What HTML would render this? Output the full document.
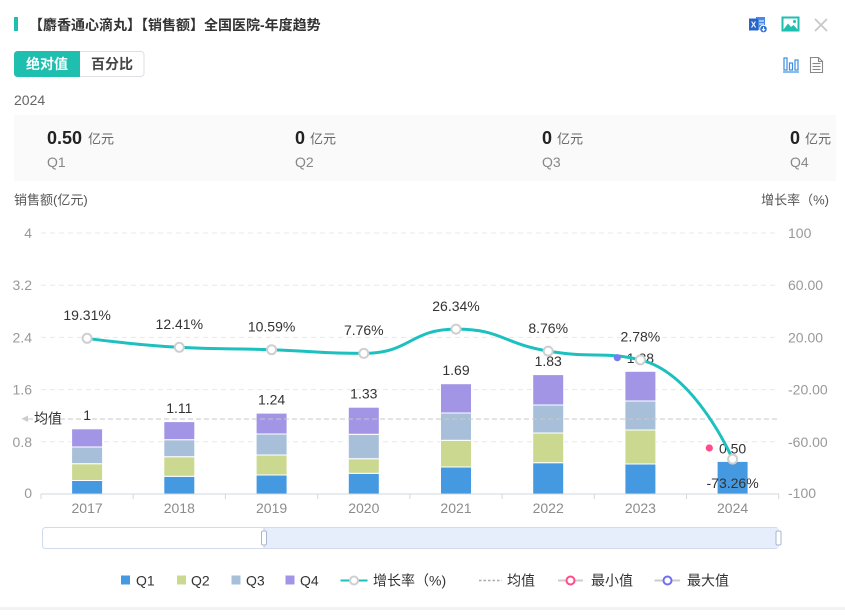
<!DOCTYPE html>
<html><head><meta charset="utf-8"><style>
html,body{margin:0;padding:0;background:#fff;}
body{width:845px;height:610px;overflow:hidden;}
svg text{font-family:"Liberation Sans","Noto Sans CJK SC",sans-serif;}
</style></head><body>
<svg width="845" height="610" viewBox="0 0 845 610" xmlns="http://www.w3.org/2000/svg">
<!-- header -->
<rect x="14" y="17" width="4" height="14" fill="#1fbfb0"/>
<text x="29" y="25" font-size="14" font-weight="bold" fill="#333" dominant-baseline="central">【麝香通心滴丸】【销售额】全国医院-年度趋势</text>
<!-- excel icon -->
<rect x="751" y="19" width="8" height="11" fill="#2b6fd6"/>
<rect x="756" y="17" width="9" height="13" fill="#4a8ae6"/>
<rect x="749" y="18.5" width="9" height="12" fill="#2566cc"/>
<text x="753.5" y="25" font-size="8" font-weight="bold" fill="#fff" text-anchor="middle" dominant-baseline="central">X</text>
<line x1="759" y1="21" x2="764" y2="21" stroke="#fff" stroke-width="1"/>
<line x1="759" y1="24" x2="764" y2="24" stroke="#fff" stroke-width="1"/>
<circle cx="763.5" cy="29" r="3.8" fill="#2b6fd6" stroke="#fff" stroke-width="1"/>
<path d="M763.5,27 v3.5 M762,29 l1.5,1.7 l1.5,-1.7" stroke="#fff" stroke-width="1" fill="none"/>
<!-- image icon -->
<rect x="782.5" y="17.5" width="16" height="13" fill="#fff" stroke="#1fbfb0" stroke-width="2"/>
<path d="M783.5,29.5 L788,23.5 L791,27 L793.5,25 L797.5,29.5 Z" fill="#1fbfb0"/>
<circle cx="794.5" cy="21.5" r="1.5" fill="#1fbfb0"/>
<!-- close -->
<path d="M815,19 L827,31 M827,19 L815,31" stroke="#c8c8c8" stroke-width="1.8"/>
<!-- toggle -->
<rect x="14.5" y="51.5" width="129.5" height="25" rx="3" fill="#fff" stroke="#dcdfe6"/>
<path d="M17.5,51 H80 V77 H17.5 A3.5,3.5 0 0 1 14,73.5 V54.5 A3.5,3.5 0 0 1 17.5,51 Z" fill="#1fbfb0"/>
<text x="47" y="64" font-size="14" font-weight="bold" fill="#fff" text-anchor="middle" dominant-baseline="central">绝对值</text>
<text x="112" y="64" font-size="14" font-weight="bold" fill="#444" text-anchor="middle" dominant-baseline="central">百分比</text>
<!-- bar icon -->
<g stroke="#3a8ee0" stroke-width="1.2" fill="none">
<rect x="784" y="58" width="3" height="12"/>
<rect x="789.5" y="63" width="3" height="7"/>
<rect x="795" y="60" width="3" height="10"/>
<line x1="783" y1="72" x2="799" y2="72"/>
</g>
<!-- doc icon -->
<g stroke="#888" stroke-width="1.1" fill="none">
<path d="M810.5,57.5 H818.5 L822.5,61.5 V72.5 H810.5 Z"/>
<path d="M818.5,57.5 V61.5 H822.5"/>
<line x1="812.5" y1="63.5" x2="820.5" y2="63.5"/>
<line x1="812.5" y1="66.5" x2="820.5" y2="66.5"/>
<line x1="812.5" y1="69.5" x2="820.5" y2="69.5"/>
</g>
<text x="14" y="100" font-size="14" fill="#666" dominant-baseline="central">2024</text>
<!-- summary panel -->
<rect x="14" y="115" width="822" height="66" fill="#fafafa"/>
<text x="47" y="138" font-size="18" font-weight="bold" fill="#222" dominant-baseline="central">0.50</text>
<text x="88" y="139" font-size="13" fill="#666" dominant-baseline="central">亿元</text>
<text x="47" y="162" font-size="14" fill="#888" dominant-baseline="central">Q1</text>
<text x="295" y="138" font-size="18" font-weight="bold" fill="#222" dominant-baseline="central">0</text>
<text x="310" y="139" font-size="13" fill="#666" dominant-baseline="central">亿元</text>
<text x="295" y="162" font-size="14" fill="#888" dominant-baseline="central">Q2</text>
<text x="542" y="138" font-size="18" font-weight="bold" fill="#222" dominant-baseline="central">0</text>
<text x="557" y="139" font-size="13" fill="#666" dominant-baseline="central">亿元</text>
<text x="542" y="162" font-size="14" fill="#888" dominant-baseline="central">Q3</text>
<text x="790" y="138" font-size="18" font-weight="bold" fill="#222" dominant-baseline="central">0</text>
<text x="805" y="139" font-size="13" fill="#666" dominant-baseline="central">亿元</text>
<text x="790" y="162" font-size="14" fill="#888" dominant-baseline="central">Q4</text>
<!-- axis titles -->
<text x="14" y="200" font-size="13" fill="#555" dominant-baseline="central">销售额(亿元)</text>
<text x="829" y="200" font-size="13" fill="#555" text-anchor="end" dominant-baseline="central">增长率（%)</text>
<!-- gridlines -->
<g stroke="#e6e9ec" stroke-width="1" stroke-dasharray="5 4">
<line x1="41" y1="233" x2="779" y2="233"/>
<line x1="41" y1="285.2" x2="779" y2="285.2"/>
<line x1="41" y1="337.4" x2="779" y2="337.4"/>
<line x1="41" y1="389.6" x2="779" y2="389.6"/>
<line x1="41" y1="441.8" x2="779" y2="441.8"/>
</g>
<!-- left axis labels -->
<g font-size="14" fill="#999" text-anchor="end">
<text x="32" y="233" dominant-baseline="central">4</text>
<text x="32" y="285.2" dominant-baseline="central">3.2</text>
<text x="32" y="337.4" dominant-baseline="central">2.4</text>
<text x="32" y="389.6" dominant-baseline="central">1.6</text>
<text x="32" y="441.8" dominant-baseline="central">0.8</text>
<text x="32" y="493" dominant-baseline="central">0</text>
</g>
<!-- right axis labels -->
<g font-size="14" fill="#999">
<text x="788" y="233" dominant-baseline="central">100</text>
<text x="788" y="285.2" dominant-baseline="central">60.00</text>
<text x="788" y="337.4" dominant-baseline="central">20.00</text>
<text x="788" y="389.6" dominant-baseline="central">-20.00</text>
<text x="788" y="441.8" dominant-baseline="central">-60.00</text>
<text x="788" y="493" dominant-baseline="central">-100</text>
</g>
<!-- bars -->
<g stroke="#fff" stroke-width="1">
<!-- 2017 -->
<rect x="71.6" y="480.5" width="31" height="13.5" fill="#4599e0"/>
<rect x="71.6" y="463.7" width="31" height="16.8" fill="#cbd990"/>
<rect x="71.6" y="447" width="31" height="16.7" fill="#a7bfd8"/>
<rect x="71.6" y="428.8" width="31" height="18.2" fill="#a395e6"/>
<!-- 2018 -->
<rect x="163.8" y="476.3" width="31" height="17.7" fill="#4599e0"/>
<rect x="163.8" y="456.7" width="31" height="19.6" fill="#cbd990"/>
<rect x="163.8" y="439.7" width="31" height="17" fill="#a7bfd8"/>
<rect x="163.8" y="421.6" width="31" height="18.1" fill="#a395e6"/>
<!-- 2019 -->
<rect x="256.1" y="475" width="31" height="19" fill="#4599e0"/>
<rect x="256.1" y="455" width="31" height="20" fill="#cbd990"/>
<rect x="256.1" y="434" width="31" height="21" fill="#a7bfd8"/>
<rect x="256.1" y="413.1" width="31" height="20.9" fill="#a395e6"/>
<!-- 2020 -->
<rect x="348.3" y="473.3" width="31" height="20.7" fill="#4599e0"/>
<rect x="348.3" y="458.7" width="31" height="14.6" fill="#cbd990"/>
<rect x="348.3" y="434.3" width="31" height="24.4" fill="#a7bfd8"/>
<rect x="348.3" y="407.2" width="31" height="27.1" fill="#a395e6"/>
<!-- 2021 -->
<rect x="440.5" y="467" width="31" height="27" fill="#4599e0"/>
<rect x="440.5" y="440.3" width="31" height="26.7" fill="#cbd990"/>
<rect x="440.5" y="413" width="31" height="27.3" fill="#a7bfd8"/>
<rect x="440.5" y="383.7" width="31" height="29.3" fill="#a395e6"/>
<!-- 2022 -->
<rect x="532.7" y="462.7" width="31" height="31.3" fill="#4599e0"/>
<rect x="532.7" y="433" width="31" height="29.7" fill="#cbd990"/>
<rect x="532.7" y="405" width="31" height="28" fill="#a7bfd8"/>
<rect x="532.7" y="374.6" width="31" height="30.4" fill="#a395e6"/>
<!-- 2023 -->
<rect x="624.9" y="464" width="31" height="30" fill="#4599e0"/>
<rect x="624.9" y="430" width="31" height="34" fill="#cbd990"/>
<rect x="624.9" y="401" width="31" height="29" fill="#a7bfd8"/>
<rect x="624.9" y="371.3" width="31" height="29.7" fill="#a395e6"/>
<!-- 2024 -->
<rect x="717.1" y="461.4" width="31" height="32.6" fill="#4599e0"/>
</g>
<!-- x axis -->
<line x1="41" y1="494" x2="779" y2="494" stroke="#d0d8de" stroke-width="1"/>
<g stroke="#d0d8de" stroke-width="1">
<line x1="41" y1="494" x2="41" y2="499"/>
<line x1="133.2" y1="494" x2="133.2" y2="499"/>
<line x1="225.4" y1="494" x2="225.4" y2="499"/>
<line x1="317.7" y1="494" x2="317.7" y2="499"/>
<line x1="409.9" y1="494" x2="409.9" y2="499"/>
<line x1="502.1" y1="494" x2="502.1" y2="499"/>
<line x1="594.3" y1="494" x2="594.3" y2="499"/>
<line x1="686.5" y1="494" x2="686.5" y2="499"/>
<line x1="778.7" y1="494" x2="778.7" y2="499"/>
</g>
<g font-size="14" fill="#8c8c8c" text-anchor="middle">
<text x="87.1" y="508" dominant-baseline="central">2017</text>
<text x="179.3" y="508" dominant-baseline="central">2018</text>
<text x="271.6" y="508" dominant-baseline="central">2019</text>
<text x="363.8" y="508" dominant-baseline="central">2020</text>
<text x="456" y="508" dominant-baseline="central">2021</text>
<text x="548.2" y="508" dominant-baseline="central">2022</text>
<text x="640.4" y="508" dominant-baseline="central">2023</text>
<text x="732.6" y="508" dominant-baseline="central">2024</text>
</g>
<!-- average line -->
<line x1="28" y1="419" x2="779" y2="419" stroke="#c8c8c8" stroke-width="1" stroke-dasharray="5 3"/>
<path d="M21.5,418.7 L28,415.5 L28,422 Z" fill="#cccccc"/>
<text x="34" y="418.5" font-size="14" fill="#333" dominant-baseline="central">均值</text>
<!-- bar total labels -->
<g font-size="14" fill="#333" text-anchor="middle">
<text x="87.1" y="415" dominant-baseline="central">1</text>
<text x="179.3" y="408" dominant-baseline="central">1.11</text>
<text x="271.6" y="399.5" dominant-baseline="central">1.24</text>
<text x="363.8" y="393.5" dominant-baseline="central">1.33</text>
<text x="456" y="370" dominant-baseline="central">1.69</text>
<text x="548.2" y="361" dominant-baseline="central">1.83</text>
<text x="640.4" y="358" dominant-baseline="central">1.88</text>
<text x="732.6" y="448.5" dominant-baseline="central">0.50</text>
</g>
<!-- growth line -->
<path d="M87.1,338.3 C87.1,338.3 133.1,344.89 179.3,347.3 C225.35,349.7 225.47,348.18 271.6,349.7 C317.7,351.22 318.45,353.4 363.8,353.4 C410.66,353.4 409.76,329.1 456,329.1 C501.97,329.1 501.56,343.31 548.2,351.1 C593.77,358.71 602.95,351.1 640.4,359.9 C695.16,372.77 732.6,459.1 732.6,459.1" fill="none" stroke="#1cc0bf" stroke-width="3"/>
<g fill="#fff" stroke="#cfcfcf" stroke-width="2">
<circle cx="87.1" cy="338.3" r="4.5"/>
<circle cx="179.3" cy="347.3" r="4.5"/>
<circle cx="271.6" cy="349.7" r="4.5"/>
<circle cx="363.8" cy="353.4" r="4.5"/>
<circle cx="456" cy="329.1" r="4.5"/>
<circle cx="548.2" cy="351.1" r="4.5"/>
<circle cx="640.4" cy="359.9" r="4.5"/>
<circle cx="732.6" cy="459.1" r="4.5"/>
</g>
<g font-size="14" fill="#333" text-anchor="middle">
<text x="87.1" y="315" dominant-baseline="central">19.31%</text>
<text x="179.3" y="324" dominant-baseline="central">12.41%</text>
<text x="271.6" y="326.4" dominant-baseline="central">10.59%</text>
<text x="363.8" y="330.1" dominant-baseline="central">7.76%</text>
<text x="456" y="305.8" dominant-baseline="central">26.34%</text>
<text x="548.2" y="327.8" dominant-baseline="central">8.76%</text>
<text x="640.4" y="336.6" dominant-baseline="central">2.78%</text>
<text x="732.6" y="483" dominant-baseline="central">-73.26%</text>
</g>
<!-- min / max markers -->
<circle cx="617.3" cy="357.7" r="3.6" fill="#7b7bf0"/>
<circle cx="709.3" cy="448" r="3.6" fill="#ff4c8a"/>
<!-- data zoom -->
<rect x="42.5" y="527.5" width="736" height="21" rx="3" fill="#fff" stroke="#d2dbee"/>
<rect x="264" y="528" width="514.5" height="20" fill="#e6edfb"/>
<line x1="264" y1="528" x2="264" y2="548" stroke="#c5d0e6"/>
<rect x="261.5" y="531" width="5" height="14" rx="1.5" fill="#fff" stroke="#aab6cf"/>
<rect x="776" y="531" width="5" height="14" rx="1.5" fill="#fff" stroke="#aab6cf"/>
<!-- legend -->
<rect x="121" y="575.5" width="9" height="9" fill="#4599e0"/>
<text x="136" y="580.5" font-size="14" fill="#333" dominant-baseline="central">Q1</text>
<rect x="177" y="575.5" width="9" height="9" fill="#cbd990"/>
<text x="191" y="580.5" font-size="14" fill="#333" dominant-baseline="central">Q2</text>
<rect x="231.5" y="575.5" width="9" height="9" fill="#a7bfd8"/>
<text x="246" y="580.5" font-size="14" fill="#333" dominant-baseline="central">Q3</text>
<rect x="285.5" y="575.5" width="9" height="9" fill="#a395e6"/>
<text x="300" y="580.5" font-size="14" fill="#333" dominant-baseline="central">Q4</text>
<line x1="340.5" y1="580.5" x2="367.5" y2="580.5" stroke="#1cc0bf" stroke-width="2"/>
<circle cx="354" cy="580.5" r="4" fill="#fff" stroke="#cfcfcf" stroke-width="2"/>
<text x="373" y="580.5" font-size="14" fill="#333" dominant-baseline="central">增长率（%)</text>
<line x1="479" y1="580.5" x2="502" y2="580.5" stroke="#aaa" stroke-width="1.5" stroke-dasharray="2.5 2"/>
<text x="507" y="580.5" font-size="14" fill="#333" dominant-baseline="central">均值</text>
<line x1="558" y1="580.5" x2="583" y2="580.5" stroke="#ccc" stroke-width="2"/>
<circle cx="570.5" cy="580.5" r="4" fill="#fff" stroke="#ff4c8a" stroke-width="2"/>
<text x="591" y="580.5" font-size="14" fill="#333" dominant-baseline="central">最小值</text>
<line x1="654.5" y1="580.5" x2="680" y2="580.5" stroke="#ccc" stroke-width="2"/>
<circle cx="667.5" cy="580.5" r="4" fill="#fff" stroke="#6f6ff0" stroke-width="2"/>
<text x="687" y="580.5" font-size="14" fill="#333" dominant-baseline="central">最大值</text>
<rect x="0" y="607" width="845" height="3" fill="#f3f3f3"/>
</svg>
</body></html>
